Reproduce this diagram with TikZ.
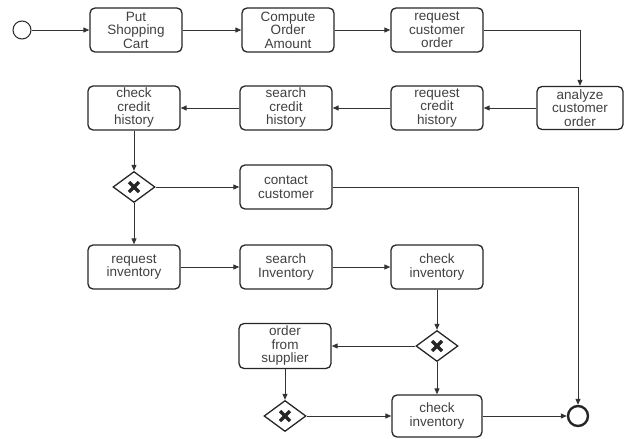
\documentclass[tikz,border=0pt]{standalone}
\usepackage{fontspec}
\setmainfont{Liberation Sans}
\usetikzlibrary{arrows.meta,shapes.geometric}

\begin{document}
\begin{tikzpicture}[x=1pt,y=-1pt,
        flow/.style={draw=black!80, line width=1pt, -{Triangle[length=6pt,width=5pt]}},
    ]
    % tasks
    \tikzstyle{task}=[draw=black!85, line width=1.3pt, rounded corners=5pt, minimum width=92pt,
        minimum height=44pt, inner sep=0, align=center, text=black!75,
        font=\fontsize{13.5}{13.5}\selectfont]
    % exclusive gateways
    \tikzstyle{gate}=[draw=black!85, line width=1.3pt, diamond, minimum width=42pt, minimum height=31pt,
        inner sep=0, path picture={
            \draw[line width=3.2pt, black!85] ([shift={(-5pt,-5pt)}]path picture bounding box.center) -- ++(10pt,10pt);
            \draw[line width=3.2pt, black!85] ([shift={(-5pt,5pt)}]path picture bounding box.center) -- ++(10pt,-10pt);}]
    \useasboundingbox (0,0) rectangle (633,439);
    \node[circle, draw=black!85, line width=1pt, minimum size=18pt, inner sep=0] (start) at (22,30) {};
    \node[task] (put) at (136,30) {Put\\Shopping\\Cart};
    \node[task] (compute) at (288,30) {Compute\\Order\\Amount};
    \node[task] (reqorder) at (437,30) {request\\customer\\order};
    \node[task, minimum width=86pt, minimum height=43pt] (analyze) at (580,108) {analyze\\customer\\order};
    \node[task] (reqcredit) at (437,108) {request\\credit\\history};
    \node[task] (searchcredit) at (286,108) {search\\credit\\history};
    \node[task] (checkcredit) at (134,108) {check\\credit\\history};
    \node[gate] (gw1) at (134,187) {};
    \node[task] (contact) at (286,187) {contact\\customer};
    \node[task] (reqinv) at (134,267) {request\\inventory};
    \node[task] (searchinv) at (286,267) {search\\Inventory};
    \node[task] (checkinv) at (437,267) {check\\inventory};
    \node[gate] (gw2) at (437,346) {};
    \node[task, minimum height=45pt] (supplier) at (285,346) {order\\from\\supplier};
    \node[gate] (gw3) at (285,416) {};
    \node[task, minimum width=90pt, minimum height=42pt] (checkinv2) at (437,416) {check\\inventory};
    \node[circle, draw=black!85, line width=2.4pt, minimum size=20pt, inner sep=0] (end) at (578,416) {};
    \draw[flow] (start) -- (put);
    \draw[flow] (put) -- (compute);
    \draw[flow] (compute) -- (reqorder);
    \draw[flow] (reqorder) -| (analyze);
    \draw[flow] (analyze) -- (reqcredit);
    \draw[flow] (reqcredit) -- (searchcredit);
    \draw[flow] (searchcredit) -- (checkcredit);
    \draw[flow] (checkcredit) -- (gw1);
    \draw[flow] (gw1) -- (contact);
    \draw[flow] (gw1) -- (reqinv);
    \draw[flow] (contact) -| (end);
    \draw[flow] (reqinv) -- (searchinv);
    \draw[flow] (searchinv) -- (checkinv);
    \draw[flow] (checkinv) -- (gw2);
    \draw[flow] (gw2) -- (supplier);
    \draw[flow] (gw2) -- (checkinv2);
    \draw[flow] (supplier) -- (gw3);
    \draw[flow] (gw3) -- (checkinv2);
    \draw[flow] (checkinv2) -- (end);
\end{tikzpicture}
\end{document}
